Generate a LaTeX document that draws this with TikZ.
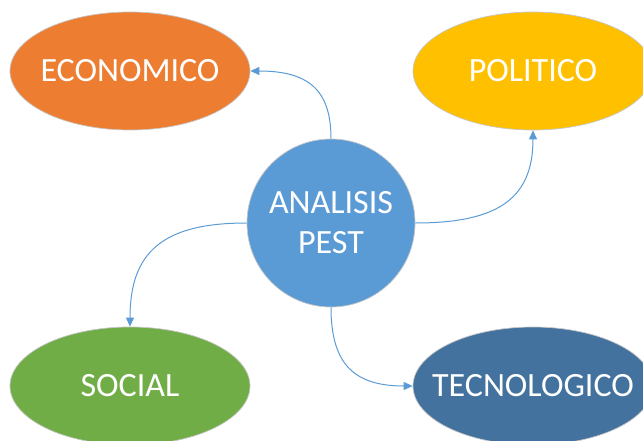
\documentclass[tikz,border=0pt]{standalone}
\usepackage{fontspec}
\setmainfont{Carlito}
\usetikzlibrary{shapes.geometric,arrows.meta,calc}
\definecolor{econ}{HTML}{ED7D31}
\definecolor{poli}{HTML}{FFC000}
\definecolor{soci}{HTML}{70AD47}
\definecolor{tecn}{HTML}{43729E}
\definecolor{hubblue}{HTML}{5B9BD5}
\definecolor{linkblue}{HTML}{5B9BD5}
\begin{document}
\begin{tikzpicture}[x=1pt,y=-1pt,
  bubble/.style={ellipse, minimum width=240pt, minimum height=118pt, inner sep=0pt,
    draw=gray!45, line width=0.7pt},
  btext/.style={text=white, font=\fontsize{34}{40}\selectfont},
  hub/.style={circle, minimum size=168pt, inner sep=0pt, fill=hubblue, draw=gray!45,
    line width=0.7pt, text=white, align=center, font=\fontsize{34}{40}\selectfont},
  link/.style={draw=linkblue, line width=1pt, -{Triangle[length=9pt,width=8pt]}}]
\clip (0,0) rectangle (643,441);
\node[bubble, fill=econ, label={[btext]center:ECONOMICO}] (eco) at (130,71) {};
\node[bubble, fill=poli, label={[btext]center:POLITICO}] (pol) at (533,71) {};
\node[bubble, fill=soci, label={[btext]center:SOCIAL}] (soc) at (130,386) {};
\node[bubble, fill=tecn, label={[btext]center:TECNOLOGICO}] (tec) at (533,386) {};
\node[hub] (hub) at (331,223) {ANALISIS\\PEST};
\draw[link] (hub.north) .. controls ($(hub.north)!0.72!(hub.north |- eco.east)$) and ($(eco.east)!0.72!(hub.north |- eco.east)$) .. (eco.east);
\draw[link] (hub.east) .. controls ($(hub.east)!0.72!(pol.south |- hub.east)$) and ($(pol.south)!0.72!(pol.south |- hub.east)$) .. (pol.south);
\draw[link] (hub.west) .. controls ($(hub.west)!0.72!(soc.north |- hub.west)$) and ($(soc.north)!0.72!(soc.north |- hub.west)$) .. (soc.north);
\draw[link] (hub.south) .. controls ($(hub.south)!0.72!(hub.south |- tec.west)$) and ($(tec.west)!0.72!(hub.south |- tec.west)$) .. (tec.west);
\end{tikzpicture}
\end{document}
